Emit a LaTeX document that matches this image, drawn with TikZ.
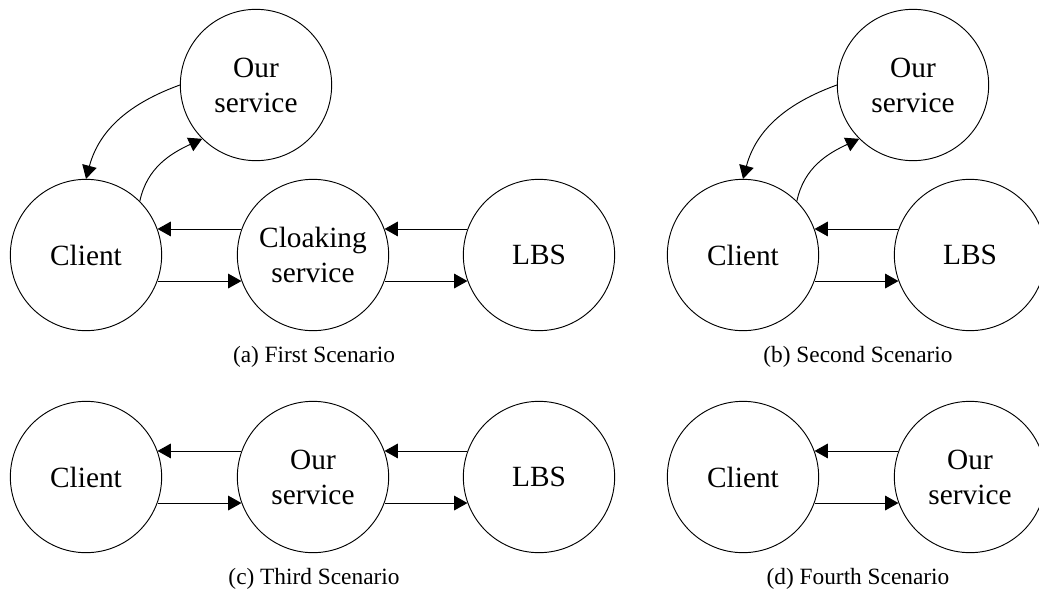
\documentclass[tikz,border=0pt]{standalone}
\usepackage{fontspec}
\setmainfont{Liberation Serif}
\usetikzlibrary{arrows.meta}
\begin{document}
\begin{tikzpicture}[x=0.75pt,y=-0.75pt,
  circ/.style={circle,draw,line width=0.7pt,minimum size=113.5pt,inner sep=0pt,align=center,font=\fontsize{22}{26.25}\selectfont},
  arr/.style={-{Triangle[length=10pt,width=11pt]},line width=0.7pt},
  captext/.style={font=\fontsize{17.5}{20}\selectfont}]
\useasboundingbox (0,0) rectangle (1039,590);
% (a)
\node[circ] (a-cl) at (86,255) {Client};
\node[circ] (a-os) at (256,85) {Our\\service};
\node[circ] (a-ck) at (313,255) {Cloaking\\service};
\node[circ] (a-lb) at (539,255) {LBS};
\draw[arr] (a-ck.160) -- (a-cl.20);
\draw[arr] (a-cl.-20) -- (a-ck.200);
\draw[arr] (a-lb.160) -- (a-ck.20);
\draw[arr] (a-ck.-20) -- (a-lb.200);
\draw[arr] (a-os.180) to[out=200,in=75] (a-cl.90);
\draw[arr] (a-cl.45) to[out=78,in=205] (a-os.225);
\node[captext] (a-cap) at (314,357) {(a) First Scenario};
% (b)
\node[circ] (b-cl) at (743,255) {Client};
\node[circ] (b-os) at (913,85) {Our\\service};
\node[circ] (b-lb) at (970,255) {LBS};
\draw[arr] (b-lb.160) -- (b-cl.20);
\draw[arr] (b-cl.-20) -- (b-lb.200);
\draw[arr] (b-os.180) to[out=200,in=75] (b-cl.90);
\draw[arr] (b-cl.45) to[out=78,in=205] (b-os.225);
\node[captext] (b-cap) at (858,357) {(b) Second Scenario};
% (c)
\node[circ] (c-cl) at (86,477) {Client};
\node[circ] (c-os) at (313,477) {Our\\service};
\node[circ] (c-lb) at (539,477) {LBS};
\draw[arr] (c-os.160) -- (c-cl.20);
\draw[arr] (c-cl.-20) -- (c-os.200);
\draw[arr] (c-lb.160) -- (c-os.20);
\draw[arr] (c-os.-20) -- (c-lb.200);
\node[captext] (c-cap) at (314,579) {(c) Third Scenario};
% (d)
\node[circ] (d-cl) at (743,477) {Client};
\node[circ] (d-os) at (970,477) {Our\\service};
\draw[arr] (d-os.160) -- (d-cl.20);
\draw[arr] (d-cl.-20) -- (d-os.200);
\node[captext] (d-cap) at (858,579) {(d) Fourth Scenario};
\end{tikzpicture}
\end{document}
